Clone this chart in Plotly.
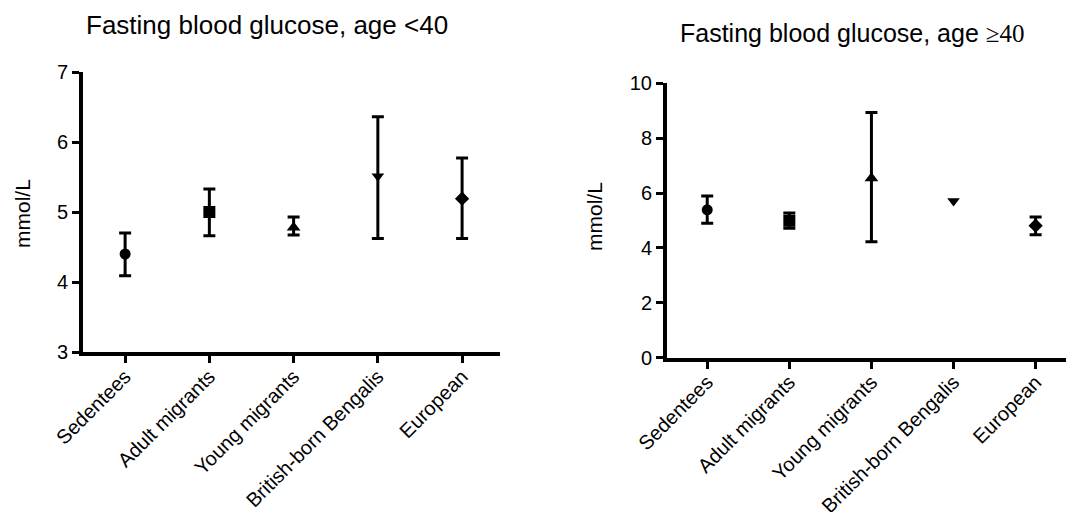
import plotly.graph_objects as go

# Study groups (x categories)
groups = ["Sedentees", "Adult migrants", "Young migrants", "British-born Bengalis", "European"]
symbols = ["circle", "square", "triangle-up", "triangle-down", "diamond"]
marker_sizes = [11, 12, 12, 11, 11]

# Fasting blood glucose (mmol/L), age < 40: mean with upper / lower interval limits
young_mean = [4.40, 5.00, 4.78, 5.51, 5.19]
young_upper = [4.70, 5.33, 4.93, 6.36, 5.77]
young_lower = [4.09, 4.66, 4.67, 4.62, 4.62]

# Fasting blood glucose (mmol/L), age >= 40 (no interval for British-born Bengalis)
old_mean = [5.39, 4.99, 6.54, 5.71, 4.81]
old_upper = [5.89, 5.27, 8.94, None, 5.13]
old_lower = [4.90, 4.72, 4.23, None, 4.48]

# Axis ticks
young_ticks = [3, 4, 5, 6, 7]
old_ticks = [0, 2, 4, 6, 8, 10]

FONT = "Liberation Sans, Arial, sans-serif"
W, H = 1066, 512

fig = go.Figure()


def add_panel(means, uppers, lowers, xa, ya):
    for g, m, u, lo, sym, sz in zip(groups, means, uppers, lowers, symbols, marker_sizes):
        has_err = u is not None and lo is not None
        fig.add_trace(go.Scatter(
            x=[g], y=[m], mode="markers",
            marker=dict(symbol=sym, size=sz, color="black", line=dict(width=0)),
            error_y=dict(
                type="data", symmetric=False,
                array=[u - m] if has_err else [0],
                arrayminus=[m - lo] if has_err else [0],
                visible=has_err, color="black", thickness=3, width=6,
            ),
            xaxis=xa, yaxis=ya, showlegend=False, hoverinfo="skip",
        ))


add_panel(young_mean, young_upper, young_lower, "x", "y")
add_panel(old_mean, old_upper, old_lower, "x2", "y2")

axis_common = dict(
    showline=True, linecolor="black", linewidth=4,
    ticks="outside", ticklen=7, tickwidth=3, tickcolor="black",
    showgrid=False, zeroline=False, automargin=False,
    tickfont=dict(family=FONT, size=20, color="black"),
)

fig.update_layout(
    width=W, height=H,
    margin=dict(l=0, r=0, t=0, b=0, autoexpand=False),
    paper_bgcolor="white", plot_bgcolor="white",
    xaxis=dict(domain=[83 / W, 500 / W], anchor="y", type="category",
               categoryorder="array", categoryarray=groups,
               range=[-0.5, 4.45], tickangle=-45, ticklabelstandoff=-6,
               **axis_common),
    yaxis=dict(domain=[1 - 352 / H, 1 - 72 / H], anchor="x", range=[3, 7],
               tickvals=young_ticks, **axis_common),
    xaxis2=dict(domain=[667 / W, 1.0], anchor="y2", type="category",
                categoryorder="array", categoryarray=groups,
                range=[-0.49, 4.37], tickangle=-45, ticklabelstandoff=-6,
                **axis_common),
    yaxis2=dict(domain=[1 - 357.7 / H, 1 - 83.3 / H], anchor="x2", range=[0, 10],
                tickvals=old_ticks, **axis_common),
)

annotations = [
    dict(text="Fasting blood glucose, age &lt;40", x=267 / W, y=1 - 25 / H,
         font=dict(family=FONT, size=26, color="black")),
    dict(text="Fasting blood glucose, age <span style='font-family:Liberation Serif'>≥40</span>",
         x=852 / W, y=1 - 33 / H, font=dict(family=FONT, size=25, color="black")),
    dict(text="mmol/L", x=22 / W, y=1 - 214 / H, textangle=-90,
         font=dict(family=FONT, size=21, color="black")),
    dict(text="mmol/L", x=594 / W, y=1 - 217 / H, textangle=-90,
         font=dict(family=FONT, size=21, color="black")),
]
for a in annotations:
    fig.add_annotation(xref="paper", yref="paper", showarrow=False,
                       xanchor="center", yanchor="middle", **a)

fig.write_html("out.html")
